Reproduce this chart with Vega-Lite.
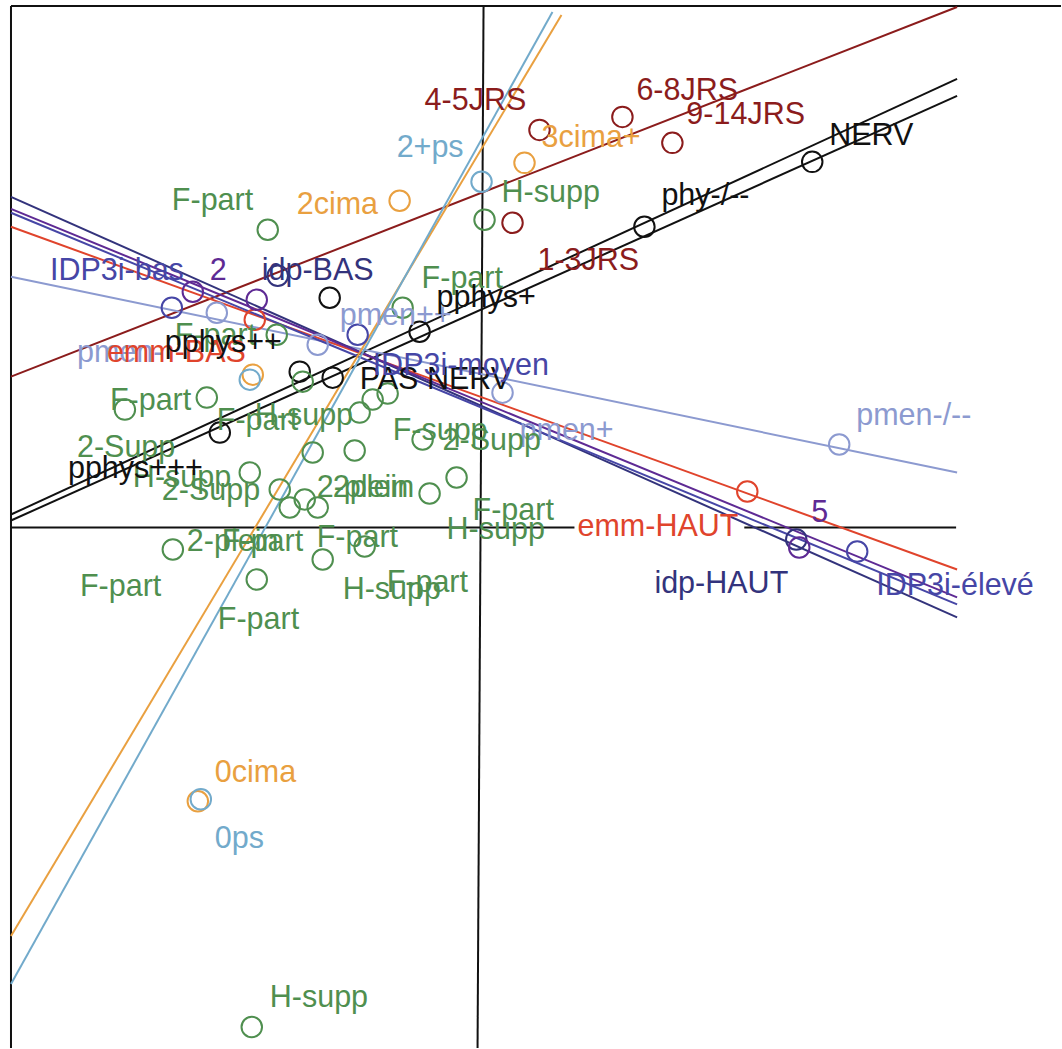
{
 "$schema": "https://vega.github.io/schema/vega-lite/v6.json",
 "width": 1062, "height": 1049,
 "autosize": {"type": "fit", "contains": "padding"},
 "padding": 0,
 "background": "white",
 "config": {"view": {"stroke": null}},
 "datasets": {
  "segs": [
   {"g": "frame", "x": -4.73, "y": 5.22, "x2": -4.73, "y2": -5.21},
   {"g": "frame", "x": -4.73, "y": 5.22, "x2": 5.78, "y2": 5.22},
   {"g": "frame", "x": 0, "y": 5.22, "x2": -0.06, "y2": -5.21},
   {"g": "frame", "x": -4.73, "y": 0, "x2": 0.91, "y2": 0},
   {"g": "frame", "x": 2.61, "y": 0, "x2": 4.73, "y2": 0},
   {"g": "jrs", "x": -4.73, "y": 1.51, "x2": 4.74, "y2": 5.21},
   {"g": "phys", "x": -4.73, "y": 0.13, "x2": 4.74, "y2": 4.49},
   {"g": "phys", "x": -4.73, "y": 0.07, "x2": 4.74, "y2": 4.32},
   {"g": "pmen", "x": -4.73, "y": 2.51, "x2": 4.74, "y2": 0.55},
   {"g": "emm", "x": -4.73, "y": 3.01, "x2": 4.74, "y2": -0.42},
   {"g": "idp", "x": -4.73, "y": 3.31, "x2": 4.74, "y2": -0.9},
   {"g": "num", "x": -4.73, "y": 3.19, "x2": 4.74, "y2": -0.7},
   {"g": "idp3", "x": -4.73, "y": 3.15, "x2": 4.74, "y2": -0.77},
   {"g": "cima", "x": -4.73, "y": -4.09, "x2": 0.78, "y2": 5.13},
   {"g": "ps", "x": -4.73, "y": -4.57, "x2": 0.69, "y2": 5.16}
  ],
  "pts": [
   {"g": "jrs", "x": 0.56, "y": 3.98},
   {"g": "jrs", "x": 1.39, "y": 4.11},
   {"g": "jrs", "x": 1.89, "y": 3.85},
   {"g": "jrs", "x": 0.29, "y": 3.05},
   {"g": "cima", "x": 0.41, "y": 3.65},
   {"g": "cima", "x": -0.84, "y": 3.27},
   {"g": "cima", "x": -2.86, "y": -2.74},
   {"g": "cima", "x": -2.31, "y": 1.53},
   {"g": "ps", "x": -0.02, "y": 3.46},
   {"g": "ps", "x": -2.83, "y": -2.72},
   {"g": "ps", "x": -2.34, "y": 1.48},
   {"g": "pmen", "x": 3.56, "y": 0.83},
   {"g": "pmen", "x": 0.19, "y": 1.35},
   {"g": "pmen", "x": -1.66, "y": 1.83},
   {"g": "pmen", "x": -2.67, "y": 2.15},
   {"g": "phys", "x": 3.29, "y": 3.66},
   {"g": "phys", "x": 1.61, "y": 3.01},
   {"g": "phys", "x": -0.64, "y": 1.96},
   {"g": "phys", "x": -1.51, "y": 1.5},
   {"g": "phys", "x": -1.84, "y": 1.56},
   {"g": "phys", "x": -2.64, "y": 0.95},
   {"g": "phys", "x": -1.54, "y": 2.3},
   {"g": "emm", "x": -2.29, "y": 2.08},
   {"g": "emm", "x": 2.64, "y": 0.36},
   {"g": "idp", "x": -2.06, "y": 2.52},
   {"g": "idp", "x": 3.13, "y": -0.12},
   {"g": "num", "x": -2.91, "y": 2.36},
   {"g": "num", "x": -2.27, "y": 2.28},
   {"g": "num", "x": 3.16, "y": -0.2},
   {"g": "idp3", "x": -3.12, "y": 2.2},
   {"g": "idp3", "x": 3.74, "y": -0.24},
   {"g": "idp3", "x": -1.26, "y": 1.93},
   {"g": "grp", "x": -2.16, "y": 2.98},
   {"g": "grp", "x": 0.01, "y": 3.08},
   {"g": "grp", "x": -0.81, "y": 2.2},
   {"g": "grp", "x": -2.07, "y": 1.93},
   {"g": "grp", "x": -3.59, "y": 1.18},
   {"g": "grp", "x": -2.77, "y": 1.3},
   {"g": "grp", "x": -1.71, "y": 0.75},
   {"g": "grp", "x": -1.29, "y": 0.77},
   {"g": "grp", "x": -2.34, "y": 0.55},
   {"g": "grp", "x": -2.04, "y": 0.38},
   {"g": "grp", "x": -1.94, "y": 0.2},
   {"g": "grp", "x": -1.79, "y": 0.28},
   {"g": "grp", "x": -1.66, "y": 0.2},
   {"g": "grp", "x": -3.11, "y": -0.22},
   {"g": "grp", "x": -2.27, "y": -0.52},
   {"g": "grp", "x": -1.61, "y": -0.32},
   {"g": "grp", "x": -1.24, "y": 1.15},
   {"g": "grp", "x": -1.11, "y": 1.28},
   {"g": "grp", "x": -0.96, "y": 1.34},
   {"g": "grp", "x": -0.61, "y": 0.88},
   {"g": "grp", "x": -0.27, "y": 0.5},
   {"g": "grp", "x": -0.54, "y": 0.34},
   {"g": "grp", "x": -1.19, "y": -0.19},
   {"g": "grp", "x": -2.32, "y": -5.0},
   {"g": "grp", "x": -1.81, "y": 1.46}
  ],
  "labs": [
   {"g": "jrs", "t": "4-5JRS", "x": -0.59, "y": 4.18},
   {"g": "jrs", "t": "6-8JRS", "x": 1.53, "y": 4.28},
   {"g": "jrs", "t": "9-14JRS", "x": 2.03, "y": 4.04},
   {"g": "jrs", "t": "1-3JRS", "x": 0.54, "y": 2.58},
   {"g": "cima", "t": "3cima+", "x": 0.58, "y": 3.81},
   {"g": "cima", "t": "2cima", "x": -1.87, "y": 3.14},
   {"g": "cima", "t": "0cima", "x": -2.69, "y": -2.55},
   {"g": "ps", "t": "2+ps", "x": -0.87, "y": 3.71},
   {"g": "ps", "t": "0ps", "x": -2.69, "y": -3.21},
   {"g": "pmen", "t": "pmen-/--", "x": 3.73, "y": 1.03},
   {"g": "pmen", "t": "pmen+", "x": 0.36, "y": 0.88},
   {"g": "pmen", "t": "pmen++", "x": -1.44, "y": 2.03},
   {"g": "pmen", "t": "pmen-", "x": -4.07, "y": 1.66},
   {"g": "grp", "t": "F-part", "x": -3.12, "y": 3.18},
   {"g": "grp", "t": "H-supp", "x": 0.18, "y": 3.26},
   {"g": "grp", "t": "F-part", "x": -0.62, "y": 2.4},
   {"g": "grp", "t": "F-part", "x": -3.09, "y": 1.83},
   {"g": "grp", "t": "F-part", "x": -3.74, "y": 1.18},
   {"g": "grp", "t": "F-part", "x": -2.67, "y": 0.98},
   {"g": "grp", "t": "H-supp", "x": -2.29, "y": 1.03},
   {"g": "grp", "t": "2-Supp", "x": -4.07, "y": 0.71},
   {"g": "grp", "t": "H-supp", "x": -3.51, "y": 0.41},
   {"g": "grp", "t": "2-Supp", "x": -3.22, "y": 0.28},
   {"g": "grp", "t": "2-plein", "x": -1.67, "y": 0.31},
   {"g": "grp", "t": "2plein", "x": -1.51, "y": 0.31},
   {"g": "grp", "t": "F-supp", "x": -0.91, "y": 0.88},
   {"g": "grp", "t": "2-Supp", "x": -0.41, "y": 0.78},
   {"g": "grp", "t": "F-part", "x": -0.11, "y": 0.08},
   {"g": "grp", "t": "H-supp", "x": -0.37, "y": -0.12},
   {"g": "grp", "t": "2-plein", "x": -2.97, "y": -0.24},
   {"g": "grp", "t": "F-part", "x": -2.62, "y": -0.24},
   {"g": "grp", "t": "F-part", "x": -1.67, "y": -0.2},
   {"g": "grp", "t": "F-part", "x": -4.04, "y": -0.69},
   {"g": "grp", "t": "F-part", "x": -2.66, "y": -1.02},
   {"g": "grp", "t": "H-supp", "x": -1.41, "y": -0.72},
   {"g": "grp", "t": "F-part", "x": -0.97, "y": -0.65},
   {"g": "grp", "t": "H-supp", "x": -2.14, "y": -4.8},
   {"g": "emm", "t": "emm-BAS", "x": -3.77, "y": 1.66},
   {"g": "emm", "t": "emm-HAUT", "x": 0.94, "y": -0.09},
   {"g": "phys", "t": "NERV", "x": 3.46, "y": 3.83},
   {"g": "phys", "t": "phy-/--", "x": 1.78, "y": 3.23},
   {"g": "phys", "t": "pphys+", "x": -0.47, "y": 2.21},
   {"g": "phys", "t": "PAS NERV", "x": -1.24, "y": 1.39},
   {"g": "phys", "t": "pphys++", "x": -3.19, "y": 1.76},
   {"g": "phys", "t": "pphys+++", "x": -4.16, "y": 0.5},
   {"g": "idp", "t": "idp-BAS", "x": -2.22, "y": 2.48},
   {"g": "idp", "t": "idp-HAUT", "x": 1.71, "y": -0.66},
   {"g": "num", "t": "2", "x": -2.74, "y": 2.48},
   {"g": "num", "t": "5", "x": 3.28, "y": 0.06},
   {"g": "idp3", "t": "IDP3i-bas", "x": -4.34, "y": 2.48},
   {"g": "idp3", "t": "IDP3i-élevé", "x": 3.93, "y": -0.68},
   {"g": "idp3", "t": "IDP3i-moyen", "x": -1.11, "y": 1.53}
  ]
 },
 "layer": [
  {
   "data": {"name": "segs"},
   "mark": {"type": "rule", "strokeWidth": 2},
   "encoding": {
    "x": {"field": "x", "type": "quantitative", "scale": {"domain": [-4.84, 5.78], "nice": false, "zero": false}, "axis": null},
    "y": {"field": "y", "type": "quantitative", "scale": {"domain": [-5.21, 5.28], "nice": false, "zero": false}, "axis": null},
    "x2": {"field": "x2"},
    "y2": {"field": "y2"},
    "color": {"field": "g", "type": "nominal", "legend": null,
     "scale": {"domain": ["frame", "jrs", "phys", "pmen", "emm", "idp", "num", "idp3", "cima", "ps", "grp"],
               "range": ["#111111", "#8b1c1c", "#111111", "#8c9ad0", "#e0442c", "#33337c", "#5e2a94", "#4646a6", "#e9a040", "#72aacb", "#4f8f4f"]}}
   }
  },
  {
   "data": {"name": "pts"},
   "mark": {"type": "point", "shape": "circle", "filled": false, "size": 420, "strokeWidth": 2, "opacity": 1},
   "encoding": {
    "x": {"field": "x", "type": "quantitative"},
    "y": {"field": "y", "type": "quantitative"},
    "color": {"field": "g", "type": "nominal", "legend": null}
   }
  },
  {
   "data": {"name": "labs"},
   "mark": {"type": "text", "align": "left", "baseline": "alphabetic", "font": "Liberation Sans", "fontSize": 30.5},
   "encoding": {
    "x": {"field": "x", "type": "quantitative"},
    "y": {"field": "y", "type": "quantitative"},
    "text": {"field": "t"},
    "color": {"field": "g", "type": "nominal", "legend": null}
   }
  }
 ]
}
